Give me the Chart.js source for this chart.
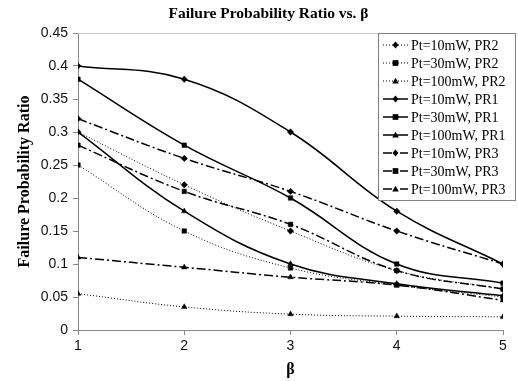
<!DOCTYPE html>
<html>
<head>
<meta charset="utf-8">
<script src="https://cdn.jsdelivr.net/npm/chart.js@4/dist/chart.umd.min.js"></script>
<style>
html,body{margin:0;padding:0;background:#fff;}
#wrap{width:518px;height:381px;position:relative;}
</style>
</head>
<body>
<div id="wrap"><canvas id="c" width="518" height="381"></canvas></div>
<script>
const betaValues = [1, 2, 3, 4, 5];
const yTicks = [0, 0.05, 0.1, 0.15, 0.2, 0.25, 0.3, 0.35, 0.4, 0.45];

const seriesLabels = [
  'Pt=10mW, PR2', 'Pt=30mW, PR2', 'Pt=100mW, PR2',
  'Pt=10mW, PR1', 'Pt=30mW, PR1', 'Pt=100mW, PR1',
  'Pt=10mW, PR3', 'Pt=30mW, PR3', 'Pt=100mW, PR3'
];
const pr2_10mW  = [0.30, 0.22, 0.15, 0.09, 0.062];
const pr2_30mW  = [0.25, 0.15, 0.094, 0.068, 0.05];
const pr2_100mW = [0.055, 0.035, 0.024, 0.021, 0.02];
const pr1_10mW  = [0.40, 0.38, 0.30, 0.18, 0.10];
const pr1_30mW  = [0.38, 0.28, 0.20, 0.10, 0.071];
const pr1_100mW = [0.30, 0.18, 0.10, 0.07, 0.052];
const pr3_10mW  = [0.32, 0.26, 0.21, 0.15, 0.10];
const pr3_30mW  = [0.28, 0.21, 0.16, 0.09, 0.062];
const pr3_100mW = [0.11, 0.095, 0.08, 0.068, 0.045];

const seriesValues = [pr2_10mW, pr2_30mW, pr2_100mW, pr1_10mW, pr1_30mW, pr1_100mW, pr3_10mW, pr3_30mW, pr3_100mW];
const markers = ['rectRot', 'rect', 'triangle'];
const groupStyle = [
  {dash: [1, 2], width: 1},        // PR2 dotted
  {dash: [], width: 1.5},          // PR1 solid
  {dash: [9, 3, 2, 3], width: 1.5} // PR3 dash-dot
];

const datasets = seriesValues.map((vals, i) => {
  const g = groupStyle[Math.floor(i / 3)];
  const m = markers[i % 3];
  return {
    label: seriesLabels[i],
    data: betaValues.map((b, j) => ({x: b, y: vals[j]})),
    borderColor: '#000',
    backgroundColor: '#000',
    borderWidth: g.width,
    borderDash: g.dash,
    pointStyle: m,
    pointRadius: 3.2,
    pointBorderWidth: 0.5,
    pointBackgroundColor: '#000',
    pointBorderColor: '#000',
    tension: 0.4,
    fill: false
  };
});

function drawMarker(ctx, style, x, y, r) {
  ctx.save();
  ctx.fillStyle = '#000';
  ctx.beginPath();
  if (style === 'rectRot') {
    ctx.moveTo(x, y - r * 1.2); ctx.lineTo(x + r * 1.0, y); ctx.lineTo(x, y + r * 1.2); ctx.lineTo(x - r * 1.0, y);
  } else if (style === 'rect') {
    const s = r * 0.95;
    ctx.rect(x - s, y - s, 2 * s, 2 * s);
  } else {
    ctx.moveTo(x, y - r * 1.1); ctx.lineTo(x + r * 1.1, y + r * 0.8); ctx.lineTo(x - r * 1.1, y + r * 0.8);
  }
  ctx.closePath();
  ctx.fill();
  ctx.restore();
}

const legendBox = {x: 378, y: 33, w: 137, h: 167, row: 18};

const framePlugin = {
  id: 'frame',
  afterDraw(chart) {
    const ctx = chart.ctx;
    const ca = chart.chartArea;
    ctx.save();
    ctx.strokeStyle = '#c8c8c8';
    ctx.lineWidth = 1;
    ctx.beginPath();
    ctx.moveTo(ca.left, ca.top + 0.5);
    ctx.lineTo(legendBox.x, ca.top + 0.5);
    ctx.stroke();
    ctx.fillStyle = '#fff';
    ctx.fillRect(legendBox.x, legendBox.y, legendBox.w, legendBox.h);
    ctx.strokeStyle = '#808080';
    ctx.strokeRect(legendBox.x + 0.5, legendBox.y + 0.5, legendBox.w, legendBox.h);
    ctx.font = '14px "Liberation Serif", "Times New Roman", serif';
    ctx.textBaseline = 'middle';
    ctx.textAlign = 'left';
    chart.data.datasets.forEach((ds, i) => {
      const y = legendBox.y + 12 + i * legendBox.row;
      ctx.save();
      ctx.strokeStyle = '#000';
      ctx.lineWidth = ds.borderWidth;
      ctx.setLineDash(ds.borderDash);
      ctx.beginPath();
      ctx.moveTo(383, y);
      ctx.lineTo(408, y);
      ctx.stroke();
      ctx.restore();
      drawMarker(ctx, ds.pointStyle, 395.5, y, 3);
      ctx.fillStyle = '#000';
      ctx.fillText(ds.label, 411, y + 1);
    });
    ctx.restore();
  }
};

new Chart(document.getElementById('c'), {
  type: 'line',
  data: {datasets},
  options: {
    responsive: false,
    animation: false,
    devicePixelRatio: 1,
    layout: {padding: {left: 34, right: 15, top: 0, bottom: 0}},
    plugins: {
      legend: {display: false},
      tooltip: {enabled: false},
      title: {
        display: true,
        text: 'Failure Probability Ratio vs. β',
        color: '#000',
        font: {family: '"Liberation Serif", "Times New Roman", serif', size: 15.5, weight: 'bold'},
        padding: {top: 5, bottom: 9.4}
      }
    },
    scales: {
      x: {
        type: 'linear',
        min: 1, max: 5,
        afterFit(s) { s.height = 51; },
        afterBuildTicks(s) { s.ticks = betaValues.map(v => ({value: v})); },
        ticks: {
          color: '#111',
          font: {family: '"Liberation Sans", Arial, sans-serif', size: 14},
          padding: 3,
          maxRotation: 0,
          callback: v => String(v)
        },
        grid: {drawOnChartArea: false, drawTicks: true, tickLength: 5, color: '#888'},
        border: {display: true, color: '#888', width: 1},
        title: {
          display: true,
          text: 'β',
          color: '#000',
          font: {family: '"Liberation Serif", "Times New Roman", serif', size: 16, weight: 'bold'},
          padding: {top: 0, bottom: 2}
        }
      },
      y: {
        type: 'linear',
        min: 0, max: 0.45,
        afterFit(s) { s.width = 44; },
        afterBuildTicks(s) { s.ticks = yTicks.map(v => ({value: v})); },
        ticks: {
          color: '#111',
          font: {family: '"Liberation Sans", Arial, sans-serif', size: 14},
          padding: 5,
          callback: v => String(Math.round(v * 100) / 100)
        },
        grid: {drawOnChartArea: false, drawTicks: true, tickLength: 5, color: '#888'},
        border: {display: true, color: '#888', width: 1},
        title: {
          display: true,
          text: 'Failure Probability Ratio',
          color: '#000',
          font: {family: '"Liberation Serif", "Times New Roman", serif', size: 16, weight: 'bold'},
          padding: {top: -18.6, bottom: 0}
        }
      }
    }
  },
  plugins: [framePlugin]
});
</script>
</body>
</html>
